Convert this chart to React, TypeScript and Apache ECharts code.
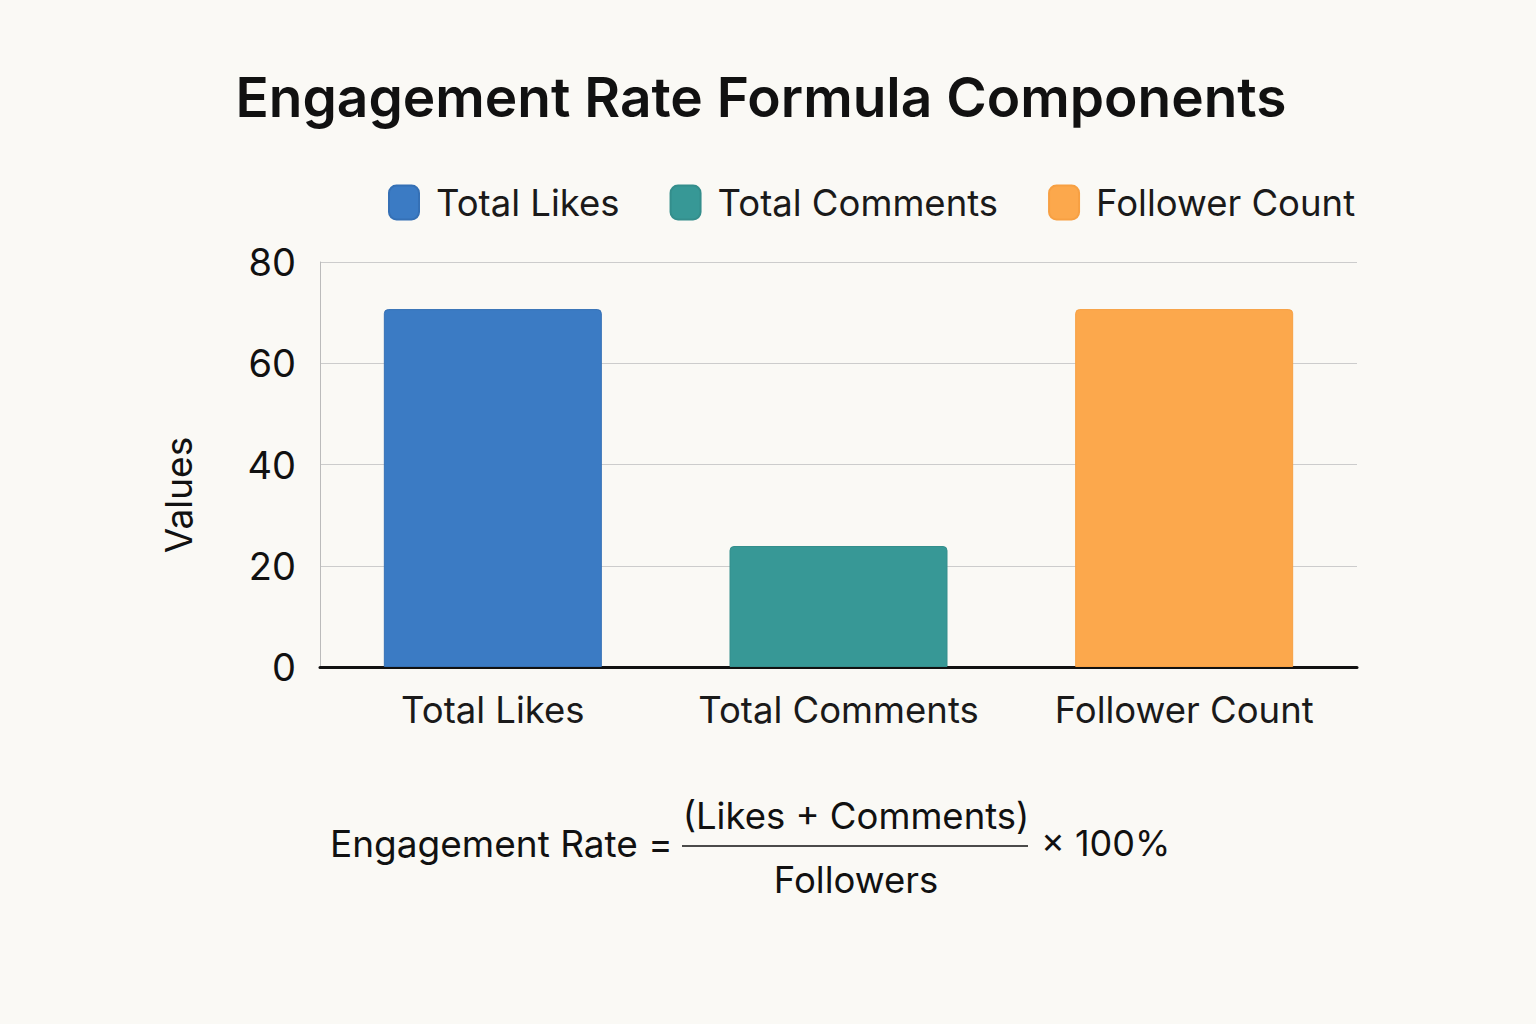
import React, { useEffect, useRef } from "react";
import * as echarts from "echarts";

const categories = ["Total Likes", "Total Comments", "Follower Count"];
const likesValues = [70.7, "-", "-"];
const commentsValues = ["-", 23.9, "-"];
const followerValues = ["-", "-", 70.7];
const yTicks = [0, 20, 40, 60, 80];

const FONT = "Inter, 'Liberation Sans', Arial, sans-serif";
const BG = "#FAF9F5";

export default function App() {
  const ref = useRef<HTMLDivElement>(null);
  useEffect(() => {
    if (!ref.current) return;
    const chart = echarts.init(ref.current, undefined, { renderer: "svg" });
    const mk = (name: string, data: any[], color: string, border: string) => ({
      name,
      type: "bar",
      stack: "all",
      data,
      barWidth: 218,
      itemStyle: { color, borderColor: border, borderWidth: 1, borderRadius: [4, 4, 0, 0] },
    });
    chart.setOption({
      animation: false,
      backgroundColor: BG,
      textStyle: { fontFamily: FONT },
      title: {
        text: "Engagement Rate Formula Components",
        left: 756,
        textAlign: "center",
        top: 64,
        textStyle: { fontFamily: FONT, fontSize: 55, fontWeight: 600, color: "#111111" },
      },
      legend: {
        left: 383,
        top: 179,
        itemWidth: 30,
        itemHeight: 34,
        itemGap: 50,
        icon: "roundRect",
        textStyle: { fontFamily: FONT, fontSize: 36.5, color: "#1a1a1a", padding: [0, 0, 0, 12] },
        data: categories,
      },
      grid: { left: 320, right: 179, top: 262, bottom: 357, containLabel: false },
      xAxis: {
        type: "category",
        data: categories,
        axisLine: { lineStyle: { color: "#111111", width: 3 } },
        axisTick: { show: false },
        axisLabel: { interval: 0, fontFamily: FONT, fontSize: 36.5, color: "#1a1a1a", margin: 24 },
      },
      yAxis: {
        type: "value",
        min: yTicks[0],
        max: yTicks[yTicks.length - 1],
        interval: 20,
        axisLine: { show: true, lineStyle: { color: "#BBBBBB", width: 1 } },
        axisTick: { show: false },
        axisLabel: { fontFamily: FONT, fontSize: 38, color: "#111111", margin: 24 },
        splitLine: { lineStyle: { color: "#CCCCCC", width: 1 } },
      },
      series: [
        mk("Total Likes", likesValues, "#3B7BC4", "#3570B5"),
        mk("Total Comments", commentsValues, "#379896", "#348E8C"),
        mk("Follower Count", followerValues, "#FCA84C", "#F7A043"),
      ],
      graphic: [
        {
          type: "text",
          x: 178,
          y: 495,
          rotation: Math.PI / 2,
          style: {
            text: "Values",
            fontFamily: FONT,
            fontSize: 37,
            fill: "#111111",
            align: "center",
            verticalAlign: "middle",
          },
        },
        {
          type: "text",
          left: 330,
          top: 825,
          style: { text: "Engagement Rate =", fontFamily: FONT, fontSize: 37, fill: "#111111" },
        },
        {
          type: "text",
          x: 856,
          y: 816,
          style: {
            text: "(Likes + Comments)",
            fontFamily: FONT,
            fontSize: 36.5,
            fill: "#111111",
            align: "center",
            verticalAlign: "middle",
          },
        },
        {
          type: "line",
          shape: { x1: 682, y1: 846, x2: 1028, y2: 846 },
          style: { stroke: "#111111", lineWidth: 1.5 },
        },
        {
          type: "text",
          x: 856,
          y: 880,
          style: {
            text: "Followers",
            fontFamily: FONT,
            fontSize: 36.5,
            fill: "#111111",
            align: "center",
            verticalAlign: "middle",
          },
        },
        {
          type: "text",
          left: 1041,
          top: 825,
          style: { text: "× 100%", fontFamily: FONT, fontSize: 36, fill: "#111111" },
        },
      ],
    });
    return () => chart.dispose();
  }, []);
  return (
    <div
      ref={ref}
      style={{ position: "fixed", left: 0, top: 0, width: 1536, height: 1024 }}
    />
  );
}
